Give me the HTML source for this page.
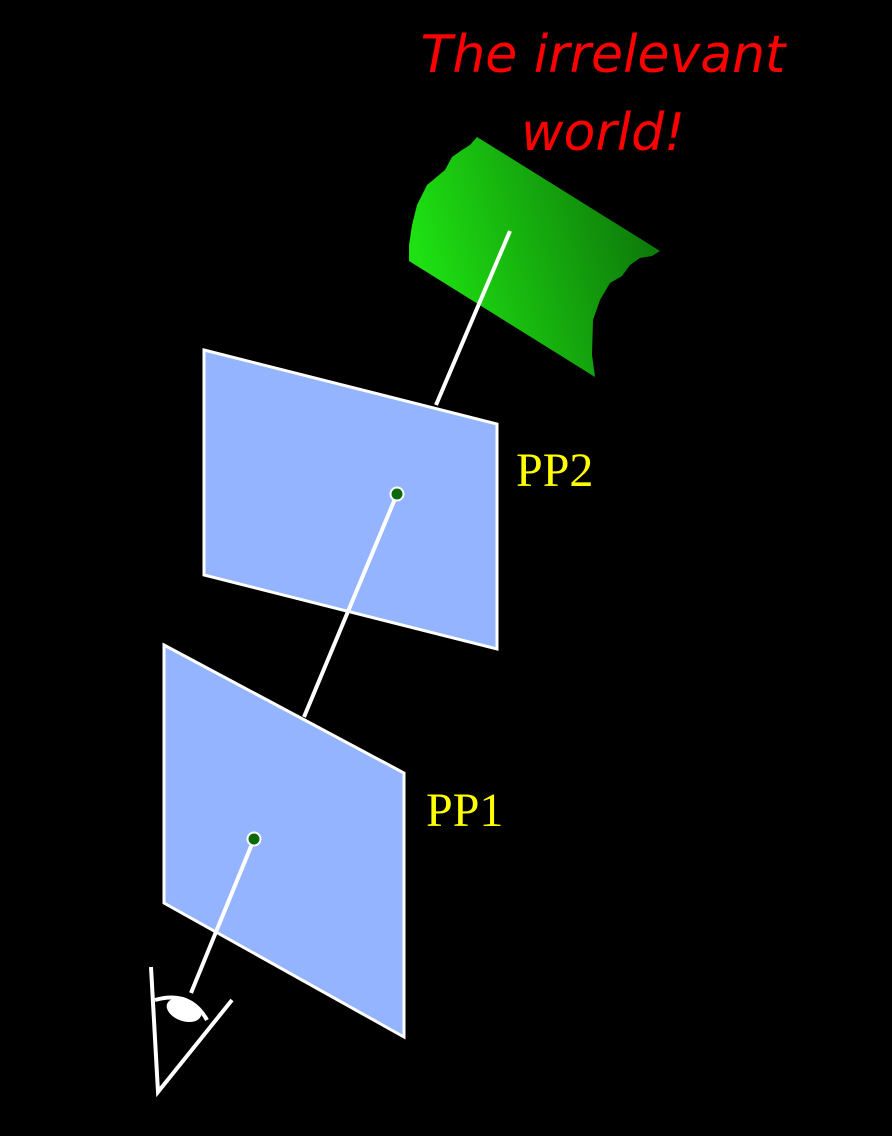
<!DOCTYPE html>
<html><head><meta charset="utf-8"><style>
html,body{margin:0;padding:0;background:#000;}
svg{display:block;}
</style></head><body>
<svg width="892" height="1136" viewBox="0 0 892 1136" xmlns="http://www.w3.org/2000/svg">
<defs>
<linearGradient id="g" x1="420" y1="260" x2="640" y2="200" gradientUnits="userSpaceOnUse">
<stop offset="0" stop-color="#1ee012"/><stop offset="1" stop-color="#0e7a0a"/>
</linearGradient>
</defs>
<rect width="892" height="1136" fill="#000"/>
<text x="603" y="72" text-anchor="middle" font-family="'DejaVu Sans','Liberation Sans',sans-serif" font-style="italic" font-size="52" fill="#ff0000">The irrelevant</text>
<text x="603" y="150" text-anchor="middle" font-family="'DejaVu Sans','Liberation Sans',sans-serif" font-style="italic" font-size="52" fill="#ff0000">world!</text>
<path d="M477,137 L660,251 L652,256 L640,258 L630,265 L622,276 L610,283 L600,300 L593,320 L592,355 L595,377 L409,261 L409,245 L412,225 L417,205 L427,185 L445,170 L452,157 L462,150 L470,145 Z" fill="url(#g)"/>
<line x1="436" y1="405" x2="510" y2="231" stroke="#fff" stroke-width="4"/>
<polygon points="204,350 497,424 497,649 204,575" fill="#94b4ff" stroke="#fff" stroke-width="3"/>
<line x1="304" y1="717" x2="397" y2="494" stroke="#fff" stroke-width="4"/>
<circle cx="397" cy="494" r="6.5" fill="#0a6a0a" stroke="#fff" stroke-width="2"/>
<polygon points="164,645 404,773 404,1037 164,903" fill="#94b4ff" stroke="#fff" stroke-width="3"/>
<line x1="191" y1="993" x2="254" y2="839" stroke="#fff" stroke-width="4"/>
<circle cx="254" cy="839" r="6.5" fill="#0a6a0a" stroke="#fff" stroke-width="2"/>
<text x="516" y="486" font-family="'Liberation Serif',serif" font-size="48" fill="#ffff00">PP2</text>
<text x="426" y="826" font-family="'Liberation Serif',serif" font-size="48" fill="#ffff00">PP1</text>
<g stroke="#fff" stroke-width="4" fill="none">
<polyline points="151,967 158,1092 232,1000"/>
<path d="M155,1000 Q190,990 207,1020"/>
<ellipse cx="184" cy="1010" rx="18" ry="11" transform="rotate(20 184 1010)" fill="#fff" stroke="none"/>
</g>
</svg>
</body></html>
